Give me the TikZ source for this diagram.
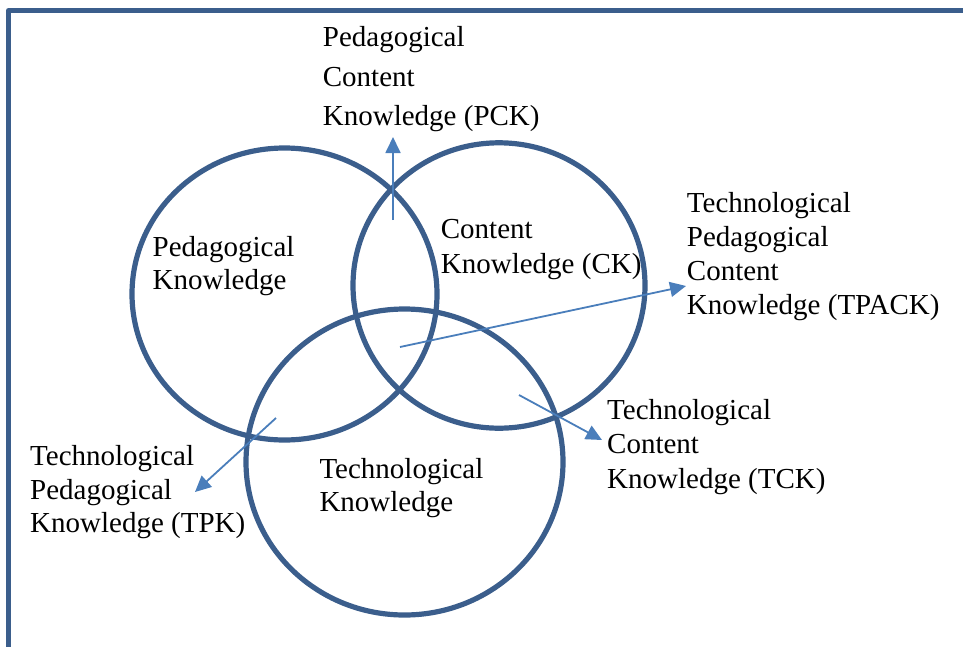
\documentclass[tikz,border=0pt]{standalone}
\usepackage{fontspec}
\setmainfont{Liberation Serif}
\newfontfamily\labelfont{Liberation Serif}
\usetikzlibrary{arrows.meta}
\definecolor{ringblue}{RGB}{59,94,140}
\definecolor{arrowblue}{RGB}{74,126,187}
\begin{document}
\begin{tikzpicture}[x=1pt,y=-1pt,
  ring/.style={draw=ringblue,line width=5.2pt},
  frameline/.style={draw=ringblue,line width=5pt,line join=round},
  pointer/.style={draw=arrowblue,line width=1.8pt,-{Triangle[length=16pt,width=15pt]}},
  lbl/.style={anchor=base west,inner sep=0pt,font=\labelfont\fontsize{29}{34}\selectfont}]
\useasboundingbox (0,0) rectangle (963,646);

% open frame: left and top edges
\draw[frameline] (8.5,650) -- (8.5,10.5) -- (970,10.5);

% the three knowledge domains
\draw[ring] (284.5,294) ellipse [x radius=152.5pt, y radius=146pt];
\draw[ring] (499,285.5) ellipse [x radius=146pt, y radius=142.7pt];
\draw[ring] (404.5,462) ellipse [x radius=158.5pt, y radius=153pt];

% labels inside the circles
\node[lbl] (pk1) at (152.5,256) {Pedagogical};
\node[lbl] (pk2) at (152.5,289) {Knowledge};
\node[lbl] (ck1) at (440.7,238.3) {Content};
\node[lbl] (ck2) at (440.7,273.3) {Knowledge (CK)};
\node[lbl] (tk1) at (319.3,478.3) {Technological};
\node[lbl] (tk2) at (319.3,511.7) {Knowledge};

% labels of the intersections
\node[lbl] (pck1) at (322.7,46.7) {Pedagogical};
\node[lbl] (pck2) at (322.7,86.2) {Content};
\node[lbl] (pck3) at (322.7,125) {Knowledge (PCK)};

\node[lbl] (tpack1) at (686.7,212) {Technological};
\node[lbl] (tpack2) at (686.7,246) {Pedagogical};
\node[lbl] (tpack3) at (686.7,280) {Content};
\node[lbl] (tpack4) at (686.7,314) {Knowledge (TPACK)};

\node[lbl] (tpk1) at (30,465) {Technological};
\node[lbl] (tpk2) at (30,499) {Pedagogical};
\node[lbl] (tpk3) at (30,532) {Knowledge (TPK)};

\node[lbl] (tck1) at (607,419) {Technological};
\node[lbl] (tck2) at (607,453) {Content};
\node[lbl] (tck3) at (607,488) {Knowledge (TCK)};

% arrow end points
\coordinate (pckFrom) at (393,220);
\coordinate (pckTo) at (393,137);
\coordinate (tpackFrom) at (400,347);
\coordinate (tpackTo) at (686,286);
\coordinate (tpkFrom) at (276,418);
\coordinate (tpkTo) at (195,492);
\coordinate (tckFrom) at (519,395);
\coordinate (tckTo) at (602,440);

\draw[pointer] (pckFrom) -- (pckTo);
\draw[pointer] (tpackFrom) -- (tpackTo);
\draw[pointer] (tpkFrom) -- (tpkTo);
\draw[pointer] (tckFrom) -- (tckTo);
\end{tikzpicture}
\end{document}
